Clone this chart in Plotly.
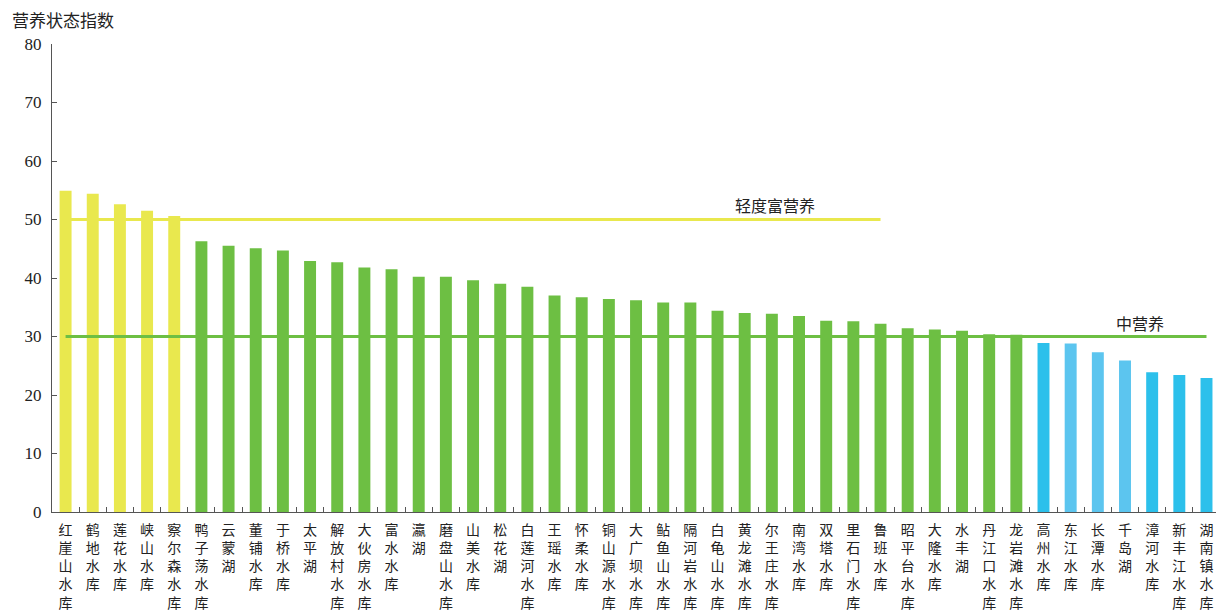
import plotly.graph_objects as go

categories = ["红崖山水库", "鹤地水库", "莲花水库", "峡山水库", "察尔森水库", "鸭子荡水库", "云蒙湖",
              "董铺水库", "于桥水库", "太平湖", "解放村水库", "大伙房水库", "富水水库", "瀛湖",
              "磨盘山水库", "山美水库", "松花湖", "白莲河水库", "王瑶水库", "怀柔水库", "铜山源水库",
              "大广坝水库", "鲇鱼山水库", "隔河岩水库", "白龟山水库", "黄龙滩水库", "尔王庄水库",
              "南湾水库", "双塔水库", "里石门水库", "鲁班水库", "昭平台水库", "大隆水库", "水丰湖",
              "丹江口水库", "龙岩滩水库", "高州水库", "东江水库", "长潭水库", "千岛湖", "漳河水库",
              "新丰江水库", "湖南镇水库"]
values = [54.9, 54.4, 52.6, 51.5, 50.6, 46.3, 45.5, 45.1, 44.7, 42.9, 42.7, 41.8, 41.5, 40.2,
          40.2, 39.6, 39.0, 38.5, 37.0, 36.7, 36.4, 36.2, 35.8, 35.8, 34.4, 34.0, 33.9, 33.5,
          32.7, 32.6, 32.2, 31.4, 31.2, 31.0, 30.4, 30.3, 28.9, 28.8, 27.3, 25.9, 23.9, 23.4, 22.9]
groups = ["light"] * 5 + ["mid"] * 31 + ["oligo"] + ["oligo_l"] * 3 + ["oligo"] * 3

thresh_light = 50
thresh_mid = 30
light_line_end = "鲁班水库"
light_label = "轻度富营养"
mid_label = "中营养"
y_title = "营养状态指数"
y_ticks = [0, 10, 20, 30, 40, 50, 60, 70, 80]

palette = {"light": "#e9e84e", "mid": "#6dbf43", "oligo": "#2cc0eb", "oligo_l": "#5cc5ef"}
colors = [palette[g] for g in groups]

cjk = "Noto Sans CJK SC"
serif = "Liberation Serif"

ticktext = ["<br>".join(list(c)) for c in categories]

fig = go.Figure()
fig.add_trace(go.Bar(x=categories, y=values, marker=dict(color=colors, line=dict(width=0)),
                     width=0.44, showlegend=False))

end_idx = categories.index(light_line_end)
fig.add_trace(go.Scatter(x=categories[:end_idx + 1], y=[thresh_light] * (end_idx + 1), mode="lines",
                         line=dict(color="#e9e84e", width=3), showlegend=False))
fig.add_trace(go.Scatter(x=categories, y=[thresh_mid] * len(categories), mode="lines",
                         line=dict(color="#6dbf43", width=3), showlegend=False))

fig.update_layout(
    width=1216, height=614,
    margin=dict(l=52, r=0, t=44, b=102, autoexpand=False),
    plot_bgcolor="white", paper_bgcolor="white",
    font=dict(family=f"{serif}, {cjk}", color="#222"),
    bargap=0.56,
    xaxis=dict(type="category", categoryorder="array", categoryarray=categories,
               tickmode="array", tickvals=categories, ticktext=ticktext, automargin=False,
               range=[-0.5, 42.35], tickson="boundaries", ticks="inside", ticklen=5,
               tickcolor="#555", showline=True, linecolor="#555", linewidth=1,
               showgrid=False, zeroline=False, ticklabelstandoff=5,
               tickfont=dict(family=cjk, size=14, color="#222")),
    yaxis=dict(range=[0, 80], tickvals=y_ticks, ticks="inside", ticklen=5, tickcolor="#555",
               automargin=False,
               showline=True, linecolor="#555", linewidth=1, showgrid=False, zeroline=False,
               tickfont=dict(family=serif, size=17, color="#222"), ticklabelstandoff=6),
    annotations=[
        dict(text=y_title, xref="paper", yref="paper", x=-42 / 1164, y=(512 - 20) / 468,
             xanchor="left", yanchor="middle", showarrow=False,
             font=dict(family=cjk, size=17, color="#222")),
        dict(text=light_label, xref="x", yref="y", x=26.1, y=52.4, xanchor="center",
             yanchor="middle", showarrow=False, font=dict(family=cjk, size=16, color="#222")),
        dict(text=mid_label, xref="x", yref="y", x=39.56, y=32.3, xanchor="center",
             yanchor="middle", showarrow=False, font=dict(family=cjk, size=16, color="#222")),
    ],
)

fig.write_html("out.html", config={"displayModeBar": False},
               post_script="document.body.style.margin='0';")
